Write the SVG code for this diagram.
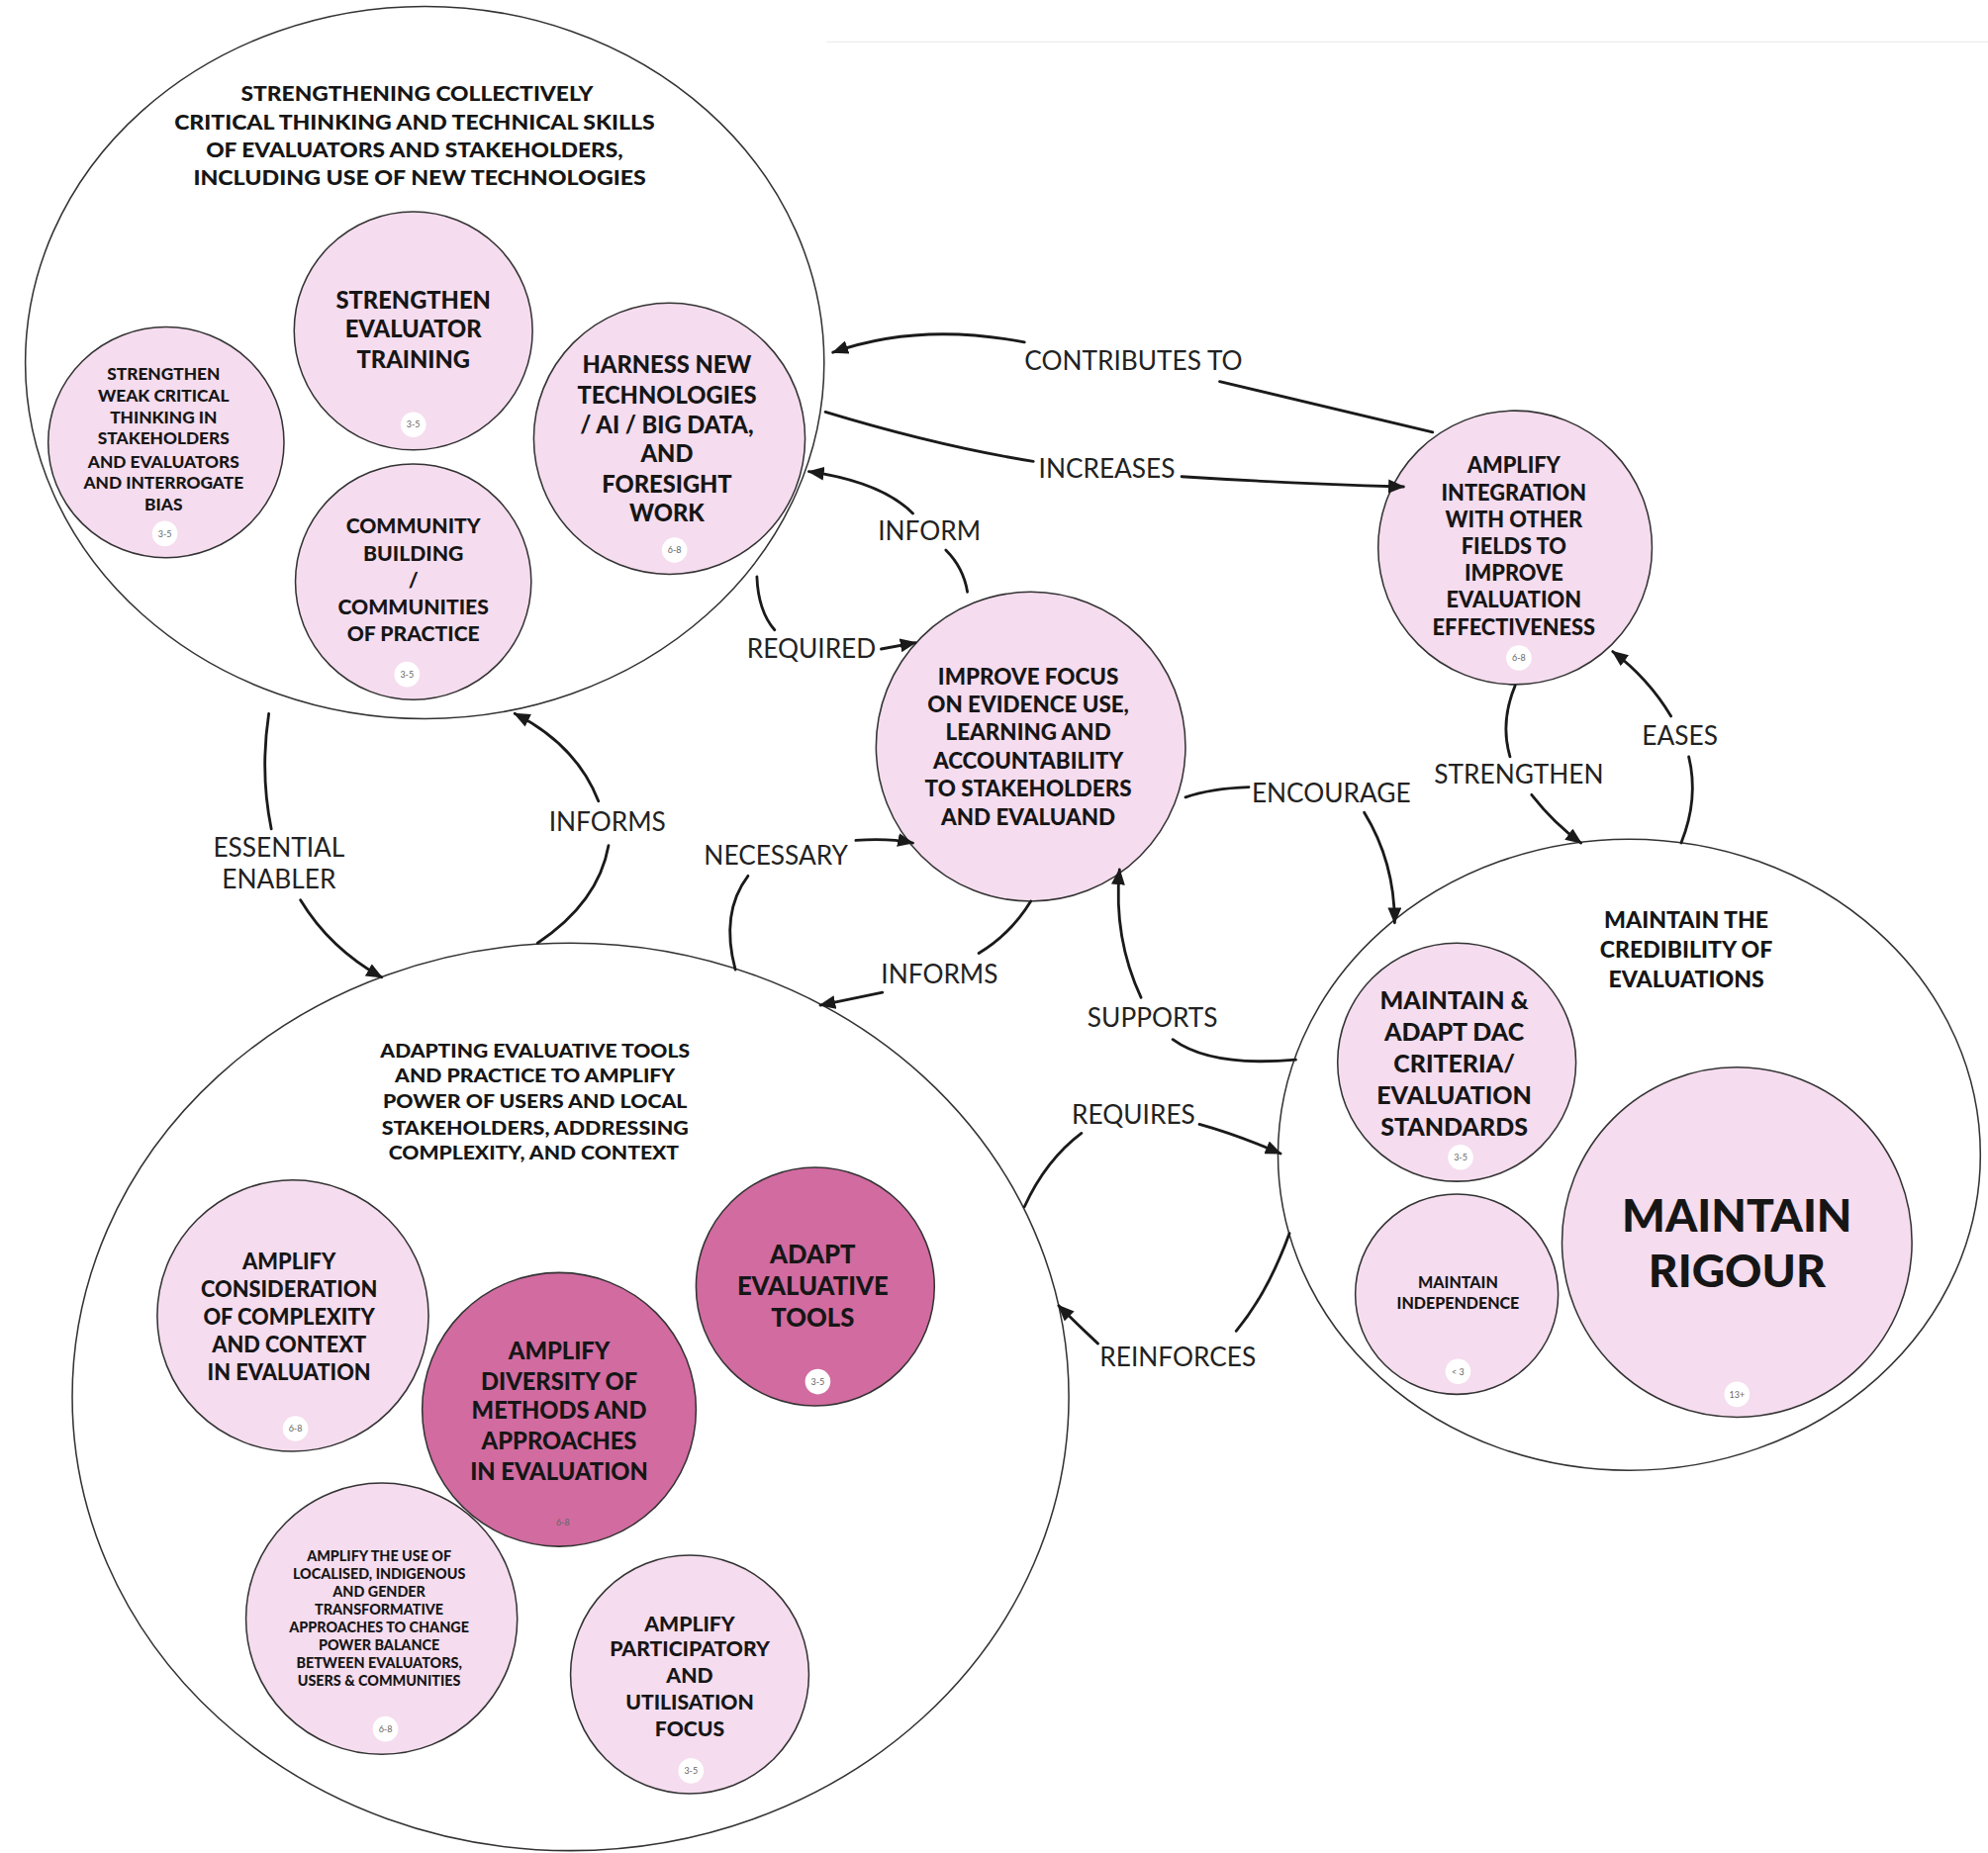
<svg xmlns="http://www.w3.org/2000/svg" width="2009" height="1873" viewBox="0 0 2009 1873">
<defs>
<marker id="ah" viewBox="0 0 12 10" refX="11" refY="5" markerWidth="13" markerHeight="11" markerUnits="userSpaceOnUse" orient="auto">
<path d="M0,0 L12,5 L0,10 z" fill="#1a1a1a"/>
</marker>
<style>
.grp{fill:#fff;stroke:#333;stroke-width:1.2}
.n{fill:#f5dcee;stroke:#333;stroke-width:1.2}
.d{fill:#d16ba0;stroke:#333;stroke-width:1.2}
.bc{fill:#fff;stroke:none}
.bt{font-family:Lato,"Liberation Sans",sans-serif;font-size:7px;fill:#666;text-anchor:middle}
.t{font-family:Lato,"Liberation Sans",sans-serif;font-weight:900;fill:#161616;text-anchor:middle}
.l{font-family:Lato,"Liberation Sans",sans-serif;font-weight:400;font-size:20.5px;fill:#222;text-anchor:middle}
.c{fill:none;stroke:#1a1a1a;stroke-width:2.2;stroke-linecap:round}
.a{marker-end:url(#ah)}
</style>
</defs>
<rect width="2009" height="1873" fill="#fff"/>
<g transform="scale(1.28125)">
<line x1="652" y1="33" x2="1568" y2="33" stroke="#ececec" stroke-width="1"/>

<g id="group-skills">
<ellipse class="grp" cx="335" cy="286" rx="315" ry="281"/>
<text class="t" font-size="16.5" x="329" y="80" textLength="278" lengthAdjust="spacingAndGlyphs">STRENGTHENING COLLECTIVELY</text>
<text class="t" font-size="16.5" x="327" y="102" textLength="379" lengthAdjust="spacingAndGlyphs">CRITICAL THINKING AND TECHNICAL SKILLS</text>
<text class="t" font-size="16.5" x="327" y="124" textLength="329" lengthAdjust="spacingAndGlyphs">OF EVALUATORS AND STAKEHOLDERS,</text>
<text class="t" font-size="16.5" x="331" y="146" textLength="357" lengthAdjust="spacingAndGlyphs">INCLUDING  USE OF NEW TECHNOLOGIES</text>
</g>

<g id="node-weak-critical">
<ellipse class="n" cx="131" cy="349" rx="93" ry="91"/>
<text class="t" font-size="13.5"><tspan x="129" y="299.8">STRENGTHEN</tspan><tspan x="129" y="316.8">WEAK CRITICAL</tspan><tspan x="129" y="333.8">THINKING IN</tspan><tspan x="129" y="350.8">STAKEHOLDERS</tspan><tspan x="129" y="368.8">AND EVALUATORS</tspan><tspan x="129" y="385.8">AND INTERROGATE</tspan><tspan x="129" y="402.8">BIAS</tspan></text>
<circle class="bc" cx="130" cy="421" r="10"/><text class="bt" x="130" y="423.5">3-5</text>
</g>

<g id="node-training">
<circle class="n" cx="326" cy="261" r="94"/>
<text class="t" font-size="18.5"><tspan x="326" y="243.5">STRENGTHEN</tspan><tspan x="326" y="266.5">EVALUATOR</tspan><tspan x="326" y="290.5">TRAINING</tspan></text>
<circle class="bc" cx="326" cy="335" r="10"/><text class="bt" x="326" y="337.5">3-5</text>
</g>

<g id="node-community">
<circle class="n" cx="326" cy="459" r="93"/>
<text class="t" font-size="16.5"><tspan x="326" y="420.8">COMMUNITY</tspan><tspan x="326" y="442.8">BUILDING</tspan><tspan x="326" y="463.8">/</tspan><tspan x="326" y="484.8">COMMUNITIES</tspan><tspan x="326" y="505.8">OF PRACTICE</tspan></text>
<circle class="bc" cx="321" cy="532" r="10"/><text class="bt" x="321" y="534.5">3-5</text>
</g>

<g id="node-harness">
<circle class="n" cx="528" cy="346" r="107"/>
<text class="t" font-size="18.5"><tspan x="526" y="294.5">HARNESS NEW</tspan><tspan x="526" y="318.5">TECHNOLOGIES</tspan><tspan x="526" y="341.5">/ AI / BIG DATA,</tspan><tspan x="526" y="364.5">AND</tspan><tspan x="526" y="388.5">FORESIGHT</tspan><tspan x="526" y="411.5">WORK</tspan></text>
<circle class="bc" cx="532" cy="434" r="10"/><text class="bt" x="532" y="436.5">6-8</text>
</g>

<g id="node-evidence-use">
<circle class="n" cx="813" cy="589" r="122"/>
<text class="t" font-size="17.5"><tspan x="811" y="540.1">IMPROVE FOCUS</tspan><tspan x="811" y="562.1">ON EVIDENCE USE,</tspan><tspan x="811" y="584.1">LEARNING  AND</tspan><tspan x="811" y="606.1">ACCOUNTABILITY</tspan><tspan x="811" y="628.1">TO STAKEHOLDERS</tspan><tspan x="811" y="651.1">AND EVALUAND</tspan></text>
</g>

<g id="node-integration">
<circle class="n" cx="1195" cy="432" r="108"/>
<text class="t" font-size="17"><tspan x="1194" y="373">AMPLIFY</tspan><tspan x="1194" y="395">INTEGRATION</tspan><tspan x="1194" y="416">WITH OTHER</tspan><tspan x="1194" y="437">FIELDS TO</tspan><tspan x="1194" y="458">IMPROVE</tspan><tspan x="1194" y="479">EVALUATION</tspan><tspan x="1194" y="501">EFFECTIVENESS</tspan></text>
<circle class="bc" cx="1198" cy="519" r="10"/><text class="bt" x="1198" y="521.5">6-8</text>
</g>

<g id="group-tools">
<ellipse class="grp" cx="450" cy="1102" rx="393" ry="358"/>
<text class="t" font-size="14.5" x="422" y="834" textLength="244" lengthAdjust="spacingAndGlyphs">ADAPTING EVALUATIVE TOOLS</text>
<text class="t" font-size="14.5" x="422" y="854" textLength="221" lengthAdjust="spacingAndGlyphs">AND PRACTICE TO AMPLIFY</text>
<text class="t" font-size="14.5" x="422" y="874" textLength="240" lengthAdjust="spacingAndGlyphs">POWER OF USERS AND LOCAL</text>
<text class="t" font-size="14.5" x="422" y="895" textLength="242" lengthAdjust="spacingAndGlyphs">STAKEHOLDERS, ADDRESSING</text>
<text class="t" font-size="14.5" x="421" y="915" textLength="229" lengthAdjust="spacingAndGlyphs">COMPLEXITY, AND CONTEXT</text>
</g>

<g id="node-complexity">
<circle class="n" cx="231" cy="1038" r="107"/>
<text class="t" font-size="17"><tspan x="228" y="1001">AMPLIFY</tspan><tspan x="228" y="1023">CONSIDERATION</tspan><tspan x="228" y="1045">OF COMPLEXITY</tspan><tspan x="228" y="1067">AND CONTEXT</tspan><tspan x="228" y="1089">IN EVALUATION</tspan></text>
<circle class="bc" cx="233" cy="1127" r="10"/><text class="bt" x="233" y="1129.5">6-8</text>
</g>

<g id="node-participatory">
<circle class="n" cx="544" cy="1321" r="94"/>
<text class="t" font-size="16.5"><tspan x="544" y="1286.8">AMPLIFY</tspan><tspan x="544" y="1306.8">PARTICIPATORY</tspan><tspan x="544" y="1327.8">AND</tspan><tspan x="544" y="1348.8">UTILISATION</tspan><tspan x="544" y="1369.8">FOCUS</tspan></text>
<circle class="bc" cx="545" cy="1397" r="10"/><text class="bt" x="545" y="1399.5">3-5</text>
</g>

<g id="node-localised">
<circle class="n" cx="301" cy="1277" r="107"/>
<text class="t" font-size="11.2"><tspan x="299" y="1231.9">AMPLIFY THE USE OF</tspan><tspan x="299" y="1245.9">LOCALISED, INDIGENOUS</tspan><tspan x="299" y="1259.9">AND GENDER</tspan><tspan x="299" y="1273.9">TRANSFORMATIVE</tspan><tspan x="299" y="1287.9">APPROACHES TO CHANGE</tspan><tspan x="299" y="1301.9">POWER BALANCE</tspan><tspan x="299" y="1315.9">BETWEEN EVALUATORS,</tspan><tspan x="299" y="1329.9">USERS &amp; COMMUNITIES</tspan></text>
<circle class="bc" cx="304" cy="1364" r="10"/><text class="bt" x="304" y="1366.5">6-8</text>
</g>

<g id="node-diversity">
<circle class="d" cx="441" cy="1112" r="108"/>
<text class="t" font-size="18.5"><tspan x="441" y="1072.5">AMPLIFY</tspan><tspan x="441" y="1096.5">DIVERSITY OF</tspan><tspan x="441" y="1119.5">METHODS AND</tspan><tspan x="441" y="1143.5">APPROACHES</tspan><tspan x="441" y="1167.5">IN EVALUATION</tspan></text>
<text class="bt" x="444" y="1203.5" fill="#5a2a44">6-8</text>
</g>

<g id="node-adapt-tools">
<circle class="d" cx="643" cy="1015" r="94"/>
<text class="t" font-size="20"><tspan x="641" y="997">ADAPT</tspan><tspan x="641" y="1022">EVALUATIVE</tspan><tspan x="641" y="1047">TOOLS</tspan></text>
<circle class="bc" cx="645" cy="1090" r="10"/><text class="bt" x="645" y="1092.5">3-5</text>
</g>

<g id="group-credibility">
<ellipse class="grp" cx="1285" cy="911" rx="277" ry="249"/>
<text class="t" font-size="18"><tspan x="1330" y="732.3">MAINTAIN THE</tspan><tspan x="1330" y="755.3">CREDIBILITY OF</tspan><tspan x="1330" y="779.3">EVALUATIONS</tspan></text>
</g>

<g id="node-dac">
<circle class="n" cx="1149" cy="838" r="94"/>
<text class="t" font-size="19.5"><tspan x="1147" y="795.8">MAINTAIN &amp;</tspan><tspan x="1147" y="820.8">ADAPT DAC</tspan><tspan x="1147" y="845.8">CRITERIA/</tspan><tspan x="1147" y="870.8">EVALUATION</tspan><tspan x="1147" y="895.8">STANDARDS</tspan></text>
<circle class="bc" cx="1152" cy="913" r="10"/><text class="bt" x="1152" y="915.5">3-5</text>
</g>

<g id="node-independence">
<ellipse class="n" cx="1149" cy="1021" rx="80" ry="79"/>
<text class="t" font-size="12.5"><tspan x="1150" y="1016.4">MAINTAIN</tspan><tspan x="1150" y="1032.4">INDEPENDENCE</tspan></text>
<circle class="bc" cx="1150" cy="1082" r="10"/><text class="bt" x="1150" y="1084.5">&lt; 3</text>
</g>

<g id="node-rigour">
<circle class="n" cx="1370" cy="980" r="138"/>
<text class="t" font-size="36"><tspan x="1370" y="971.6">MAINTAIN</tspan><tspan x="1370" y="1015.6">RIGOUR</tspan></text>
<circle class="bc" cx="1370" cy="1100" r="10"/><text class="bt" x="1370" y="1102.5">13+</text>
</g>

<g id="connectors">
<path class="c" d="M1130,341 L962,301"/>
<path class="c a" d="M808,270 Q725,254 657,278"/>
<text class="l" x="894" y="292">CONTRIBUTES TO</text>

<path class="c" d="M651,325 Q740,352 815,364"/>
<path class="c a" d="M932,376 Q1010,381 1107,384"/>
<text class="l" x="873" y="377">INCREASES</text>

<path class="c" d="M763,467 Q760,448 746,434"/>
<path class="c a" d="M720,405 Q695,380 638,372"/>
<text class="l" x="733" y="426">INFORM</text>

<path class="c" d="M597,455 Q598,482 611,497"/>
<path class="c a" d="M695,512 L722,507"/>
<text class="l" x="640" y="519">REQUIRED</text>

<path class="c" d="M212,563 Q205,610 214,654"/>
<path class="c a" d="M237,710 Q260,748 301,771"/>
<text class="l"><tspan x="220" y="676">ESSENTIAL</tspan><tspan x="220" y="701">ENABLER</tspan></text>

<path class="c" d="M424,744 Q472,712 480,667"/>
<path class="c a" d="M472,632 Q455,588 406,563"/>
<text class="l" x="479" y="656">INFORMS</text>

<path class="c" d="M580,765 Q568,720 590,691"/>
<path class="c a" d="M675,663 Q700,661 720,665"/>
<text class="l" x="612" y="682">NECESSARY</text>

<path class="c" d="M813,711 Q797,737 772,752"/>
<path class="c a" d="M696,783 L647,793"/>
<text class="l" x="741" y="776">INFORMS</text>

<path class="c" d="M935,629 Q955,622 985,621"/>
<path class="c a" d="M1076,641 Q1100,680 1100,728"/>
<text class="l" x="1050" y="633">ENCOURAGE</text>

<path class="c" d="M1022,836 Q955,842 925,820"/>
<path class="c a" d="M900,787 Q878,740 883,686"/>
<text class="l" x="909" y="810">SUPPORTS</text>

<path class="c" d="M1195,541 Q1183,570 1191,597"/>
<path class="c a" d="M1208,627 Q1226,650 1247,665"/>
<text class="l" x="1198" y="618">STRENGTHEN</text>

<path class="c" d="M1326,665 Q1340,630 1332,597"/>
<path class="c a" d="M1318,565 Q1300,535 1272,514"/>
<text class="l" x="1325" y="588">EASES</text>

<path class="c" d="M808,952 Q825,915 853,894"/>
<path class="c a" d="M946,887 Q975,895 1010,910"/>
<text class="l" x="894" y="887">REQUIRES</text>

<path class="c" d="M1017,973 Q1000,1020 975,1050"/>
<path class="c a" d="M866,1060 Q850,1045 835,1030"/>
<text class="l" x="929" y="1078">REINFORCES</text>
</g>
</g>
</svg>
